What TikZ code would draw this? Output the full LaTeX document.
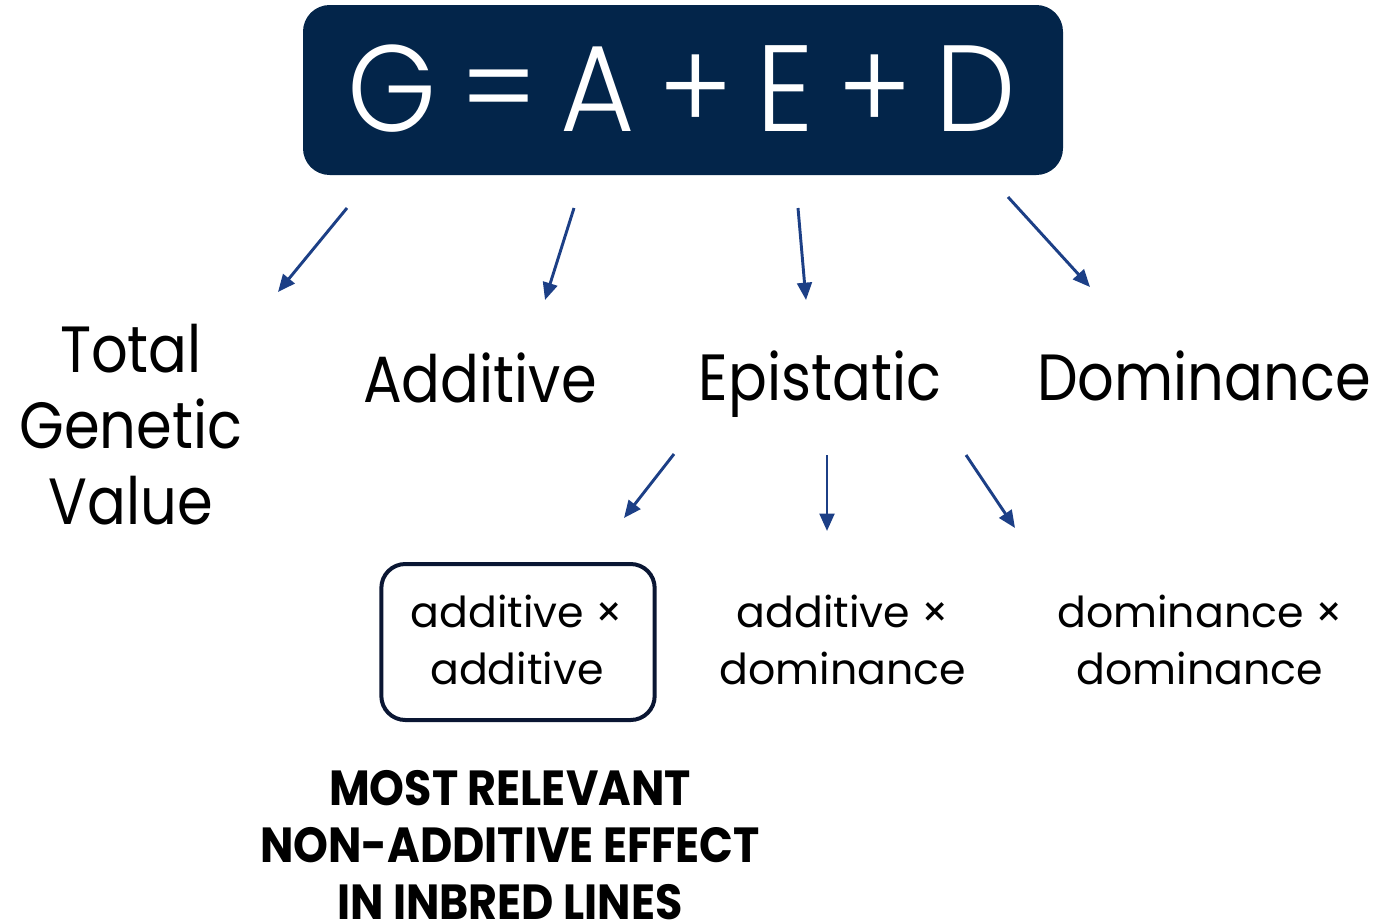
\documentclass[tikz,border=0pt]{standalone}
\usepackage{fontspec}
\setmainfont{Poppins}
\newfontfamily\labelfont[FakeStretch=0.88]{Poppins}
\newfontfamily\eqfont[FakeStretch=0.93]{Poppins Light}
\newfontfamily\notefont[FakeStretch=0.9]{Poppins Bold}
\usetikzlibrary{arrows.meta}
\definecolor{navy}{HTML}{03254A}
\definecolor{arrowblue}{HTML}{1C3F86}
\definecolor{boxline}{HTML}{0A1633}
\newcommand\eqgap{\hspace{17.5pt}}
\begin{document}
\begin{tikzpicture}[x=0.75pt,y=-0.75pt,
  link/.style={draw=arrowblue,line width=2.2pt,-{Triangle[length=13pt,width=11pt]}},
  biglabel/.style={font=\labelfont\fontsize{49pt}{57pt}\selectfont,align=center,inner sep=0pt},
  sublabel/.style={font=\fontsize{32pt}{43pt}\selectfont,align=center,inner sep=0pt},
  note/.style={font=\notefont\fontsize{37pt}{43pt}\selectfont,align=center,inner sep=0pt}]
\useasboundingbox (0,0) rectangle (1378,921);
% equation banner
\node[fill=navy,rounded corners=20pt,minimum width=570pt,minimum height=127.5pt,inner sep=0pt] (eq) at (683,90) {};
\node[text=white,font=\eqfont\fontsize{92pt}{92pt}\selectfont,inner sep=0pt,anchor=base] (eqtext) at (682,131) {G\eqgap=\eqgap A\eqgap+\eqgap E\eqgap+\eqgap D};
% components
\node[biglabel] (tgv) at (131,425) {Total\\Genetic\\Value};
\node[biglabel,anchor=base] (add) at (480,402) {Additive};
\node[biglabel,anchor=base] (epi) at (820,400) {Epistatic};
\node[biglabel,anchor=base] (dom) at (1204,400) {Dominance};
% epistatic sub-types
\node[draw=boxline,line width=3pt,rounded corners=18pt,minimum width=205pt,minimum height=117pt,inner sep=0pt] (aabox) at (518,642) {};
\node[sublabel] (aa) at (517,640) {additive ×\\additive};
\node[sublabel] (ad) at (843,640) {additive ×\\dominance};
\node[sublabel] (dd) at (1200,640) {dominance ×\\dominance};
\node[note] (rel) at (510,845) {MOST RELEVANT\\NON-ADDITIVE EFFECT\\IN INBRED LINES};
% arrow end points
\coordinate (s1) at (347,208); \coordinate (e1) at (278,292);
\coordinate (s2) at (574,208); \coordinate (e2) at (545,300);
\coordinate (s3) at (798,208); \coordinate (e3) at (806,300);
\coordinate (s4) at (1008,197); \coordinate (e4) at (1090,287);
\coordinate (s5) at (674,454); \coordinate (e5) at (624,518);
\coordinate (s6) at (827,455); \coordinate (e6) at (827,531);
\coordinate (s7) at (966,455); \coordinate (e7) at (1015,528);
\foreach \i in {1,...,7} \draw[link] (s\i) -- (e\i);
\end{tikzpicture}
\end{document}
